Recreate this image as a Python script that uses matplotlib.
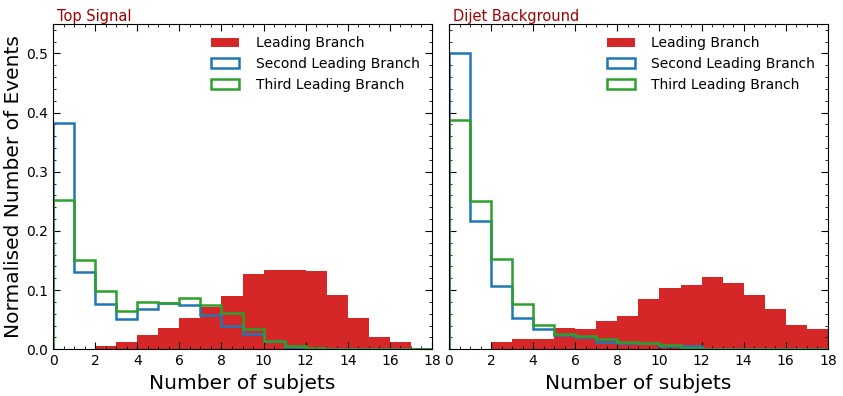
import matplotlib
matplotlib.use("Agg")
import matplotlib.pyplot as plt
from matplotlib.ticker import MultipleLocator
import numpy as np

# bin edges: number of subjets 0..18, unit bins
edges = np.arange(0, 19)
centres = edges[:-1] + 0.5

# Top signal (normalised fractions per bin)
top_leading = [0.0, 0.001, 0.005, 0.012, 0.024, 0.036, 0.053, 0.071, 0.090,
               0.127, 0.134, 0.134, 0.132, 0.092, 0.053, 0.020, 0.012, 0.001]
top_second = [0.383, 0.131, 0.077, 0.051, 0.068, 0.078, 0.075, 0.058, 0.039,
              0.025, 0.014, 0.004, 0.001, 0.0005, 0.0, 0.0, 0.0, 0.0]
top_third = [0.252, 0.150, 0.099, 0.065, 0.080, 0.078, 0.087, 0.075, 0.062,
             0.034, 0.014, 0.006, 0.002, 0.001, 0.001, 0.001, 0.001, 0.001]

# Dijet background
qcd_leading = [0.0, 0.001, 0.012, 0.017, 0.017, 0.036, 0.034, 0.047, 0.056,
               0.085, 0.103, 0.108, 0.122, 0.112, 0.092, 0.068, 0.041, 0.034]
qcd_second = [0.500, 0.216, 0.107, 0.053, 0.034, 0.024, 0.021, 0.012, 0.010,
              0.010, 0.005, 0.005, 0.001, 0.0005, 0.0, 0.0, 0.0, 0.0]
qcd_third = [0.387, 0.251, 0.153, 0.077, 0.041, 0.025, 0.023, 0.018, 0.012,
             0.011, 0.007, 0.002, 0.001, 0.001, 0.001, 0.001, 0.001, 0.001]

panels = [("Top Signal", top_leading, top_second, top_third),
          ("Dijet Background", qcd_leading, qcd_second, qcd_third)]

fig, axes = plt.subplots(1, 2, figsize=(8.43, 3.96), dpi=100, sharey=True)
fig.subplots_adjust(left=0.063, right=0.982, bottom=0.118, top=0.94, wspace=0.045)

for ax, (title, lead, second, third) in zip(axes, panels):
    ax.hist(centres, bins=edges, weights=lead, histtype="stepfilled",
            color="#d62728", label="Leading Branch")
    ax.hist(centres, bins=edges, weights=second, histtype="step",
            color="#1f77b4", lw=1.8, label="Second Leading Branch")
    ax.hist(centres, bins=edges, weights=third, histtype="step",
            color="#2ca02c", lw=1.8, label="Third Leading Branch")

    ax.set_xlim(0, 18)
    ax.set_ylim(0, 0.55)
    ax.xaxis.set_major_locator(MultipleLocator(2))
    ax.xaxis.set_minor_locator(MultipleLocator(0.5))
    ax.yaxis.set_major_locator(MultipleLocator(0.1))
    ax.yaxis.set_minor_locator(MultipleLocator(0.02))
    ax.tick_params(which="both", direction="in", top=True, right=True,
                   labelsize=10)
    ax.tick_params(which="major", length=5)
    ax.tick_params(which="minor", length=2.5)

    ax.set_title(title, loc="left", color="#a00000", fontsize=10.5, pad=1,
                 x=0.01)
    ax.set_xlabel("Number of subjets", fontsize=14.5)
    ax.legend(loc="upper right", frameon=False, fontsize=10,
              labelspacing=0.5, handlelength=2.0, handletextpad=1.2)

axes[0].set_ylabel("Normalised Number of Events", fontsize=14.5, labelpad=2)

fig.savefig("out.png", dpi=100)
